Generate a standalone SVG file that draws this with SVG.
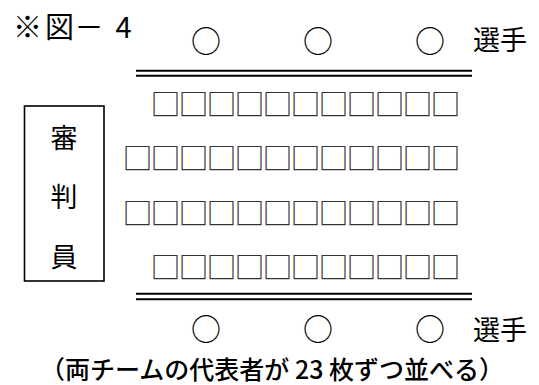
<svg xmlns="http://www.w3.org/2000/svg" width="539" height="385" viewBox="0 0 539 385">
<style>
.cjk{font-family:"Noto Sans CJK JP","Noto Sans",sans-serif;fill:#000}
.sq{font-size:30px;dominant-baseline:central;text-anchor:middle;fill:#333}
.ci{font-size:30px;dominant-baseline:central;text-anchor:middle}
.dl{stroke:#000;stroke-width:2;fill:none}
</style>
<rect width="539" height="385" fill="#fff"/>
<g id="heading">
<text class="cjk" font-size="29" text-anchor="middle" dominant-baseline="central" x="27.5 59.5 89 123.5" y="24.5">※図－4</text>
</g>
<g id="judge">
<rect x="24.5" y="106" width="79.5" height="175" fill="none" stroke="#000" stroke-width="1.6"/>
<text class="cjk" font-size="27" text-anchor="middle" dominant-baseline="central" x="64" y="136.5">審</text>
<text class="cjk" font-size="27" text-anchor="middle" dominant-baseline="central" x="64" y="195.5">判</text>
<text class="cjk" font-size="27" text-anchor="middle" dominant-baseline="central" x="64" y="255">員</text>
</g>
<g id="players-top">
<text class="cjk ci" x="206 318 430" y="38.5">○○○</text>
<text class="cjk" font-size="27" dominant-baseline="central" x="473" y="38.5">選手</text>
</g>
<g id="lines">
<line class="dl" x1="136" y1="70.7" x2="472" y2="70.7"/>
<line class="dl" x1="136" y1="75.7" x2="472" y2="75.7"/>
<line class="dl" x1="136" y1="293.8" x2="472" y2="293.8"/>
<line class="dl" x1="136" y1="299.2" x2="472" y2="299.2"/>
</g>
<g id="cards">
<text class="cjk sq" y="102" x="165.5 193.5 221.5 249.5 277.5 305.5 333.5 361.5 389.5 417.5 445.5">□□□□□□□□□□□</text>
<text class="cjk sq" y="155.5" x="137.5 165.5 193.5 221.5 249.5 277.5 305.5 333.5 361.5 389.5 417.5 445.5">□□□□□□□□□□□□</text>
<text class="cjk sq" y="210.5" x="137.5 165.5 193.5 221.5 249.5 277.5 305.5 333.5 361.5 389.5 417.5 445.5">□□□□□□□□□□□□</text>
<text class="cjk sq" y="264.5" x="165.5 193.5 221.5 249.5 277.5 305.5 333.5 361.5 389.5 417.5 445.5">□□□□□□□□□□□</text>
</g>
<g id="players-bottom">
<text class="cjk ci" x="206 318 430" y="327">○○○</text>
<text class="cjk" font-size="27" dominant-baseline="central" x="473" y="328">選手</text>
</g>
<g id="caption">
<text class="cjk" font-size="25" font-weight="500" dominant-baseline="central" x="40" y="368">（両チームの代表者が 23 枚ずつ並べる）</text>
</g>
</svg>
